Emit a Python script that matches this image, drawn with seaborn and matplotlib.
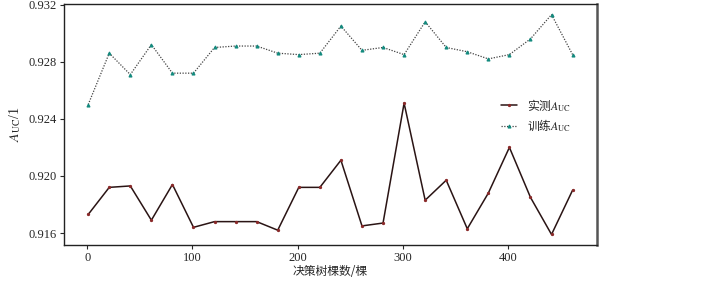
import numpy as np
import pandas as pd
import seaborn as sns
import matplotlib.pyplot as plt

# number of trees
trees = [1, 21, 41, 61, 81, 101, 121, 141, 161, 181, 201, 221,
         241, 261, 281, 301, 321, 341, 361, 381, 401, 421, 441, 461]

# measured (test) AUC
auc_test = [0.9173, 0.9192, 0.9193, 0.9169, 0.9194, 0.9164, 0.9168, 0.9168,
            0.9168, 0.9162, 0.9192, 0.9192, 0.9211, 0.9165, 0.9167, 0.9251,
            0.9183, 0.9197, 0.9163, 0.9188, 0.9220, 0.9185, 0.9159, 0.9190]

# training AUC
auc_train = [0.9250, 0.9286, 0.9271, 0.9292, 0.9272, 0.9272, 0.9290, 0.9291,
             0.9291, 0.9286, 0.9285, 0.9286, 0.9305, 0.9288, 0.9290, 0.9285,
             0.9308, 0.9290, 0.9287, 0.9282, 0.9285, 0.9296, 0.9313, 0.9285]

df = pd.DataFrame({'trees': trees, 'test': auc_test, 'train': auc_train})

sns.set_style('ticks')
plt.rcParams['font.family'] = ['Liberation Serif', 'Noto Sans CJK SC']
plt.rcParams['mathtext.fontset'] = 'stix'

fig = plt.figure(figsize=(7.22, 2.81), dpi=100)
ax = fig.add_axes([0.0886, 0.128, 0.738, 0.858])

sns.lineplot(data=df, x='trees', y='test', ax=ax, color='#2a1414', lw=1.1,
             marker='o', markersize=1.6, markerfacecolor='#8a2a2a',
             markeredgecolor='#8a2a2a', label='实测$A_{\\rm UC}$')
sns.lineplot(data=df, x='trees', y='train', ax=ax, color='#444444', lw=0.9,
             linestyle=(0, (1, 1.2)), marker='^', markersize=2.2,
             markerfacecolor='#138a7e', markeredgecolor='#138a7e',
             label='训练$A_{\\rm UC}$')

ax.set_xlim(-22, 484)
ax.set_ylim(0.91516, 0.93205)
ax.set_xticks([0, 100, 200, 300, 400])
ax.set_yticks([0.916, 0.920, 0.924, 0.928, 0.932])
ax.set_yticklabels(['0.916', '0.920', '0.924', '0.928', '0.932'])
ax.tick_params(labelsize=9, length=3, width=0.8, direction='out', pad=2)
ax.set_xlabel('决策树棵数/棵', fontsize=8.5, labelpad=1,
              family=['Noto Sans CJK SC'])
ax.set_ylabel('$A_{\\rm UC}$/1', fontsize=10, labelpad=4)

for s in ax.spines.values():
    s.set_visible(True)
    s.set_linewidth(1.0)
    s.set_color('#222222')
ax.spines['right'].set_linewidth(1.8)
ax.spines['right'].set_color('#555555')

ax.legend(loc='upper left', bbox_to_anchor=(0.8, 0.66), frameon=False,
          prop={'family': 'Noto Sans CJK SC', 'size': 8.5},
          handlelength=1.4, handletextpad=0.8, labelspacing=0.4)

fig.savefig('out.png', dpi=100)
